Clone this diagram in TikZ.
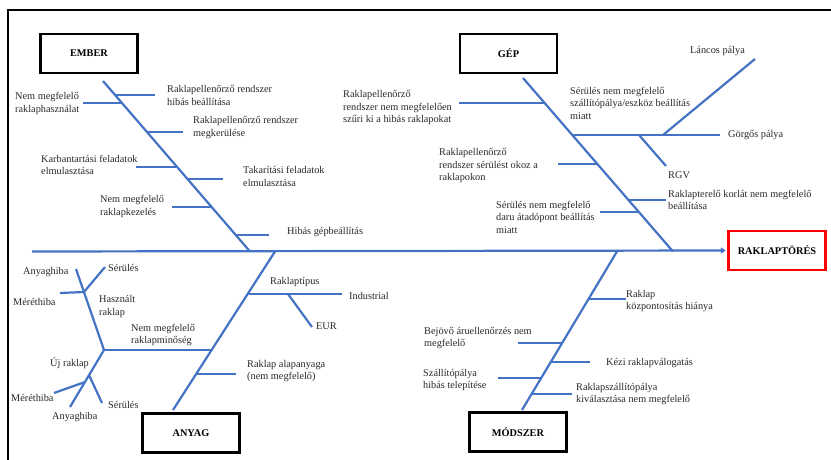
\documentclass[tikz,border=0pt]{standalone}
\usepackage{fontspec}
\setmainfont{Liberation Serif}
\usetikzlibrary{arrows.meta}
\definecolor{boneblue}{RGB}{68,114,196}
\definecolor{textgray}{RGB}{40,40,40}
\tikzset{
  catbox/.style={
    draw=black,
    line width=2.4pt,
    minimum width=97pt,
    minimum height=39pt,
    inner sep=2pt,
    font=\fontsize{10.3}{12}\selectfont\bfseries
  },
  effectbox/.style={catbox, draw=red},
  bone/.style={draw=boneblue, line width=2.2pt},
  spine/.style={bone, -{Triangle[length=5pt,width=6pt]}},
  lbl/.style={anchor=west, align=left, inner sep=0pt, text=textgray,
    font=\fontsize{10.3}{12.5}\selectfont}
}

\begin{document}
\begin{tikzpicture}[x=1pt, y=-1pt]
  \useasboundingbox (0,0) rectangle (831,460);
  \draw[line width=2pt] (8,460) -- (8,10) -- (831,10);

  % category boxes and effect
  \node[catbox] (ember) at (89,53.5) {EMBER};
  \node[catbox] (gep) at (508.5,53.5) {GÉP};
  \node[catbox] (anyag) at (191,433) {ANYAG};
  \node[catbox] (modszer) at (518,432) {MÓDSZER};
  \node[effectbox] (effect) at (777,250.5) {RAKLAPTÖRÉS};

  % spine and main bones
  \coordinate (spStart) at (32,251.5);
  \coordinate (emTop) at (103,81);
  \coordinate (emEnd) at (250,251.5);
  \coordinate (gpTop) at (523,78);
  \coordinate (gpEnd) at (673,251.5);
  \coordinate (anBot) at (173,410);
  \coordinate (anEnd) at (275,251.5);
  \coordinate (moBot) at (522,410);
  \coordinate (moEnd) at (617,251.5);
  \draw[spine, shorten >=1.5pt] (spStart) -- (effect.west);
  \draw[bone] (emTop) -- (emEnd);
  \draw[bone] (gpTop) -- (gpEnd);
  \draw[bone] (anBot) -- (anEnd);
  \draw[bone] (moBot) -- (moEnd);

  % EMBER
  \coordinate (em1) at (115,95);  \coordinate (em1e) at (155,95);
  \coordinate (em2) at (122,103); \coordinate (em2e) at (83,103);
  \coordinate (em3) at (147,132); \coordinate (em3e) at (183,132);
  \coordinate (em4) at (176,167); \coordinate (em4e) at (136,167);
  \coordinate (em5) at (187,179); \coordinate (em5e) at (223,179);
  \coordinate (em6) at (211,207); \coordinate (em6e) at (172,207);
  \coordinate (em7) at (235,235); \coordinate (em7e) at (269,235);
  \draw[bone] (em1) -- (em1e);
  \draw[bone] (em2) -- (em2e);
  \draw[bone] (em3) -- (em3e);
  \draw[bone] (em4) -- (em4e);
  \draw[bone] (em5) -- (em5e);
  \draw[bone] (em6) -- (em6e);
  \draw[bone] (em7) -- (em7e);
  \node[lbl] (emL1) at (167,95.5) {Raklapellenőrző rendszer\\hibás beállítása};
  \node[lbl] (emL2) at (15,103.5) {Nem megfelelő\\raklaphasználat};
  \node[lbl] (emL3) at (193,127.5) {Raklapellenőrző rendszer\\megkerülése};
  \node[lbl] (emL4) at (41,165) {Karbantartási feladatok\\elmulasztása};
  \node[lbl] (emL5) at (243,176.5) {Takarítási feladatok\\elmulasztása};
  \node[lbl] (emL6) at (100,206.5) {Nem megfelelő\\raklapkezelés};
  \node[lbl] (emL7) at (287,232) {Hibás gépbeállítás};

  % GÉP
  \coordinate (gp1) at (544,103); \coordinate (gp1e) at (459,103);
  \coordinate (gp2) at (572,135); \coordinate (gp2e) at (720,135);
  \coordinate (gp2a) at (663,135); \coordinate (gp2ae) at (755,59);
  \coordinate (gp2b) at (639,135); \coordinate (gp2be) at (666,166);
  \coordinate (gp3) at (597,164); \coordinate (gp3e) at (558,164);
  \coordinate (gp4) at (628,200); \coordinate (gp4e) at (666,200);
  \coordinate (gp5) at (638,212); \coordinate (gp5e) at (600,212);
  \draw[bone] (gp1) -- (gp1e);
  \draw[bone] (gp2) -- (gp2e);
  \draw[bone] (gp2a) -- (gp2ae);
  \draw[bone] (gp2b) -- (gp2be);
  \draw[bone] (gp3) -- (gp3e);
  \draw[bone] (gp4) -- (gp4e);
  \draw[bone] (gp5) -- (gp5e);
  \node[lbl] (gpL1) at (343,108) {Raklapellenőrző\\rendszer nem megfelelően\\szűri ki a hibás raklapokat};
  \node[lbl] (gpL2) at (570,103) {Sérülés nem megfelelő\\szállítópálya/eszköz beállítás\\miatt};
  \node[lbl] (gpL2a) at (690,51) {Láncos pálya};
  \node[lbl] (gpL2e) at (728,135) {Görgős pálya};
  \node[lbl] (gpL2b) at (668,175) {RGV};
  \node[lbl] (gpL3) at (439,166) {Raklapellenőrző\\rendszer sérülést okoz a\\raklapokon};
  \node[lbl] (gpL4) at (668,200) {Raklapterelő korlát nem megfelelő\\beállítása};
  \node[lbl] (gpL5) at (496,217) {Sérülés nem megfelelő\\daru átadópont beállítás\\miatt};

  % ANYAG
  \coordinate (an1) at (249,294); \coordinate (an1e) at (342,294);
  \coordinate (an1a) at (288,294); \coordinate (an1ae) at (312,327);
  \coordinate (an2) at (212,350); \coordinate (an2e) at (104,350);
  \coordinate (haszE) at (76,269);
  \coordinate (h1) at (84,292); \coordinate (h1e) at (105,267);
  \coordinate (h2e) at (60,293);
  \coordinate (ujE) at (70,407);
  \coordinate (u1) at (85,382); \coordinate (u1e) at (54,393);
  \coordinate (u2) at (89,375); \coordinate (u2e) at (102,403);
  \coordinate (an3) at (197,374); \coordinate (an3e) at (236,374);
  \draw[bone] (an1) -- (an1e);
  \draw[bone] (an1a) -- (an1ae);
  \draw[bone] (an2) -- (an2e);
  \draw[bone] (an2e) -- (haszE);
  \draw[bone] (h1) -- (h1e);
  \draw[bone] (h1) -- (h2e);
  \draw[bone] (an2e) -- (ujE);
  \draw[bone] (u1) -- (u1e);
  \draw[bone] (u2) -- (u2e);
  \draw[bone] (an3) -- (an3e);
  \node[lbl] (anL1) at (270,282) {Raklaptípus};
  \node[lbl] (anL1e) at (349,296) {Industrial};
  \node[lbl] (anL1a) at (316,326) {EUR};
  \node[lbl] (anL2) at (131,335) {Nem megfelelő\\raklapminőség};
  \node[lbl] (haszL) at (99,306.5) {Használt\\raklap};
  \node[lbl] (haszTop) at (23,272) {Anyaghiba};
  \node[lbl] (h1L) at (108,268) {Sérülés};
  \node[lbl] (h2L) at (13,302) {Méréthiba};
  \node[lbl] (ujL) at (50,363) {Új raklap};
  \node[lbl] (u1L) at (11,398) {Méréthiba};
  \node[lbl] (ujBot) at (52,417) {Anyaghiba};
  \node[lbl] (u2L) at (108,405) {Sérülés};
  \node[lbl] (anL3) at (247,371) {Raklap alapanyaga\\(nem megfelelő)};

  % MÓDSZER
  \coordinate (mo1) at (589,299); \coordinate (mo1e) at (626,299);
  \coordinate (mo2) at (563,343); \coordinate (mo2e) at (518,343);
  \coordinate (mo3) at (551,362); \coordinate (mo3e) at (590,362);
  \coordinate (mo4) at (541,378); \coordinate (mo4e) at (498,378);
  \coordinate (mo5) at (532,394); \coordinate (mo5e) at (572,394);
  \draw[bone] (mo1) -- (mo1e);
  \draw[bone] (mo2) -- (mo2e);
  \draw[bone] (mo3) -- (mo3e);
  \draw[bone] (mo4) -- (mo4e);
  \draw[bone] (mo5) -- (mo5e);
  \node[lbl] (moL1) at (626,301) {Raklap\\központosítás hiánya};
  \node[lbl] (moL2) at (424,338) {Bejövő áruellenőrzés nem\\megfelelő};
  \node[lbl] (moL3) at (606,363) {Kézi raklapválogatás};
  \node[lbl] (moL4) at (423,380) {Szállítópálya\\hibás telepítése};
  \node[lbl] (moL5) at (576,394) {Raklapszállítópálya\\kiválasztása nem megfelelő};
\end{tikzpicture}
\end{document}
